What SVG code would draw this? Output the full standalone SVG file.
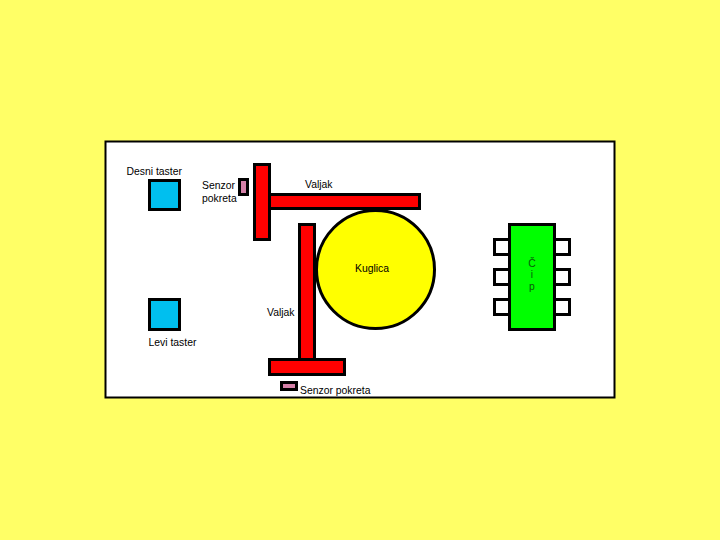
<svg xmlns="http://www.w3.org/2000/svg" width="720" height="540" viewBox="0 0 720 540">
<style>
.s{stroke:#000;stroke-width:3}
.r{fill:#f00}
.b{fill:#00bfef}
.p{fill:#d580a8}
.w{fill:#fff}
text{font-family:"Liberation Sans",Arial,sans-serif;font-size:10.4px;fill:#000}
#cip text{fill:#0a5a0a}
</style>
<rect width="720" height="540" fill="#ffff66"/>
<rect x="105.500" y="141.500" width="509" height="256" fill="#fff" stroke="#000" stroke-width="2"/>
<g id="desni-taster"><rect class="s b" x="149.500" y="180.500" width="30" height="29"/><text x="126.500" y="175">Desni taster</text></g>
<g id="levi-taster"><rect class="s b" x="149.500" y="299.500" width="30" height="30"/><text x="148.500" y="346">Levi taster</text></g>
<g id="senzor-gore"><rect class="s p" x="239.500" y="179.500" width="8" height="15"/><text x="202" y="189">Senzor</text><text x="202" y="202">pokreta</text></g>
<g id="valjak-gore"><rect class="s r" x="269.500" y="194.500" width="150" height="14"/><rect class="s r" x="254.500" y="164.500" width="15" height="75"/><text x="305" y="188">Valjak</text></g>
<g id="kuglica"><circle class="s" cx="375.500" cy="269.500" r="59" fill="#ff0"/><text x="355" y="272">Kuglica</text></g>
<g id="valjak-dole"><rect class="s r" x="299.500" y="224.500" width="15" height="135"/><rect class="s r" x="269.500" y="359.500" width="75" height="15"/><text x="267" y="316">Valjak</text></g>
<g id="senzor-dole"><rect class="s p" x="281.500" y="382.500" width="15" height="7"/><text x="300" y="394">Senzor pokreta</text></g>
<g id="cip"><rect class="s w" x="494.500" y="239.500" width="15" height="15"/><rect class="s w" x="494.500" y="269.500" width="15" height="15"/><rect class="s w" x="494.500" y="299.500" width="15" height="15"/><rect class="s w" x="554.500" y="239.500" width="15" height="15"/><rect class="s w" x="554.500" y="269.500" width="15" height="15"/><rect class="s w" x="554.500" y="299.500" width="15" height="15"/><rect class="s" x="509.500" y="224.500" width="45" height="105" fill="#00ff00"/><text x="532" y="267" text-anchor="middle">Č</text><text x="532" y="278" text-anchor="middle">i</text><text x="532" y="290" text-anchor="middle">p</text></g>
<g id="connectors"/>
</svg>
